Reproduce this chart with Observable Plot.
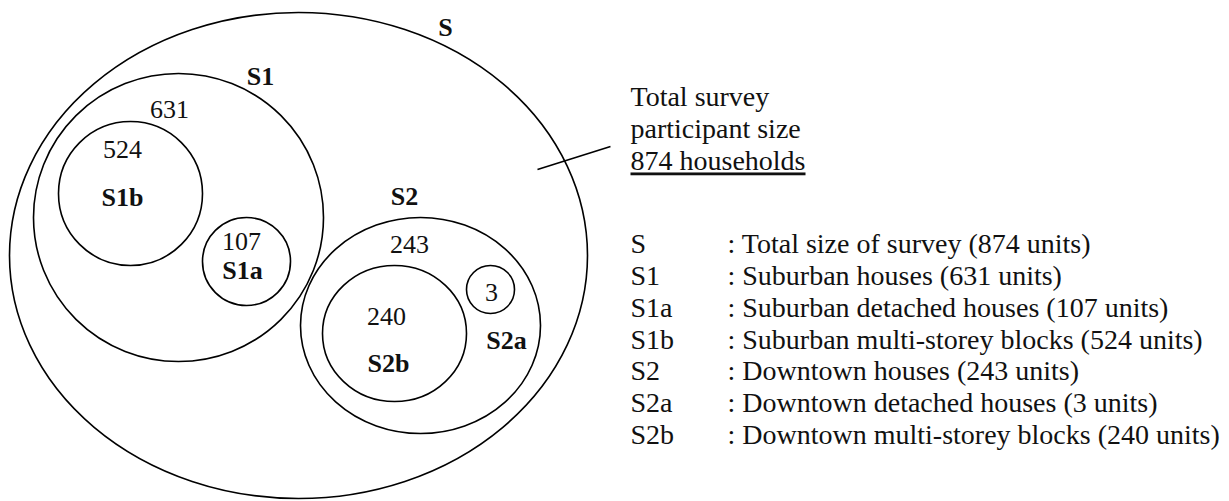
<!DOCTYPE html>
<html>
<head>
<meta charset="utf-8">
<script src="https://cdn.jsdelivr.net/npm/d3@7"></script>
<script src="https://cdn.jsdelivr.net/npm/@observablehq/plot@0.6"></script>
<style>
  html, body { margin: 0; padding: 0; background: #fff; }
  #chart svg { display: block; }
  #chart svg, #chart svg text {
    font-family: "Liberation Serif", "DejaVu Serif", "Times New Roman", serif !important;
  }
</style>
</head>
<body>
<div id="chart"></div>
<script>
// ---- Data ----
const sets = ["S", "S1", "S1a", "S1b", "S2", "S2a", "S2b"];
const sizes = [874, 631, 107, 524, 243, 3, 240];
const descriptions = [
  "Total size of survey",
  "Suburban houses",
  "Suburban detached houses",
  "Suburban multi-storey blocks",
  "Downtown houses",
  "Downtown detached houses",
  "Downtown multi-storey blocks"
];
const calloutLines = ["Total survey", "participant size", "874 households"];

// ---- Layout (diagram coordinates, in layout units) ----
const ellipseLayout = {
  S:   {cx: 298, cy: 255, rx: 289, ry: 243},
  S1:  {cx: 178, cy: 217, rx: 145, ry: 144},
  S1a: {cx: 246, cy: 261, rx: 44,  ry: 44},
  S1b: {cx: 130, cy: 193, rx: 72,  ry: 72},
  S2:  {cx: 420, cy: 325, rx: 120, ry: 108},
  S2a: {cx: 490, cy: 289, rx: 24,  ry: 24},
  S2b: {cx: 394, cy: 333, rx: 72,  ry: 68}
};
const nameLabelPos = {
  S: [445, 27], S1: [260, 76], S1a: [242, 270], S1b: [122, 197],
  S2: [404, 196], S2a: [506, 340], S2b: [388, 363]
};
const sizeLabelPos = {
  S1: [169, 109], S1a: [241, 241], S1b: [122, 149],
  S2: [409, 244], S2a: [491, 292], S2b: [386, 316]
};
const legend = {keyX: 630, textX: 727, y0: 244, step: 31.7};
const callout = {x: 630, y0: 97, step: 32, pointer: {x1: 537, y1: 169, x2: 610, y2: 146}};

const W = 1229, H = 501;
const font = "Liberation Serif, DejaVu Serif, serif";

// ---- Build mark tables ----
const ellipses = sets.map((s, i) => ({set: s, size: sizes[i], ...ellipseLayout[s]}));
const nameLabels = sets.map(s => ({text: s, x: nameLabelPos[s][0], y: nameLabelPos[s][1]}));
const sizeLabels = sets.filter(s => sizeLabelPos[s]).map(s => ({
  text: String(sizes[sets.indexOf(s)]), x: sizeLabelPos[s][0], y: sizeLabelPos[s][1]
}));
const legendRows = sets.map((s, i) => ({
  key: s,
  text: `: ${descriptions[i]} (${sizes[i]} units)`,
  y: legend.y0 + i * legend.step
}));
const calloutRows = calloutLines.map((t, i) => ({text: t, y: callout.y0 + i * callout.step, underline: i === calloutLines.length - 1}));

// Ellipse renderer: draw each dot as an ellipse with scaled radii
function ellipseRender(index, scales, values, dimensions, context, next) {
  const g = next(index, scales, values, dimensions, context);
  const ns = "http://www.w3.org/2000/svg";
  const circles = Array.from(g.querySelectorAll("circle"));
  circles.forEach((c, k) => {
    const i = index[k];
    const d = ellipses[i];
    const px = scales.x(d.cx), py = scales.y(d.cy);
    const e = document.createElementNS(ns, "ellipse");
    e.setAttribute("cx", px);
    e.setAttribute("cy", py);
    e.setAttribute("rx", Math.abs(scales.x(d.cx + d.rx) - px));
    e.setAttribute("ry", Math.abs(scales.y(d.cy + d.ry) - py));
    c.replaceWith(e);
  });
  return g;
}

const chart = Plot.plot({
  width: W,
  height: H,
  margin: 0,
  x: {domain: [0, W], range: [0, W], axis: null},
  y: {domain: [0, H], range: [0, H], axis: null},
  r: {type: "identity"},
  style: {fontFamily: font, background: "#fff"},
  marks: [
    Plot.dot(ellipses, {
      x: "cx", y: "cy", r: "ry",
      fill: "none", stroke: "#000", strokeWidth: 1.6,
      render: ellipseRender
    }),
    Plot.link([callout.pointer], {
      x1: "x1", y1: "y1", x2: "x2", y2: "y2",
      stroke: "#000", strokeWidth: 1.6
    }),
    Plot.text(sizeLabels, {
      x: "x", y: "y", text: "text",
      fontSize: 26, fontFamily: font, fill: "#111"
    }),
    Plot.text(nameLabels, {
      x: "x", y: "y", text: "text",
      fontSize: 26, fontFamily: font, fontWeight: "bold", fill: "#111"
    }),
    Plot.text(calloutRows, {
      x: () => callout.x, y: "y", text: "text",
      textAnchor: "start", fontSize: 28, fontFamily: font, fill: "#111",
      render(index, scales, values, dimensions, context, next) {
        const g = next(index, scales, values, dimensions, context);
        Array.from(g.querySelectorAll("text")).forEach((t, k) => {
          if (calloutRows[index[k]].underline) t.style.textDecoration = "underline";
        });
        return g;
      }
    }),
    Plot.text(legendRows, {
      x: () => legend.keyX, y: "y", text: "key",
      textAnchor: "start", fontSize: 28, fontFamily: font, fill: "#111"
    }),
    Plot.text(legendRows, {
      x: () => legend.textX, y: "y", text: "text",
      textAnchor: "start", fontSize: 28, fontFamily: font, fill: "#111"
    })
  ]
});

document.getElementById("chart").appendChild(chart);
</script>
</body>
</html>
